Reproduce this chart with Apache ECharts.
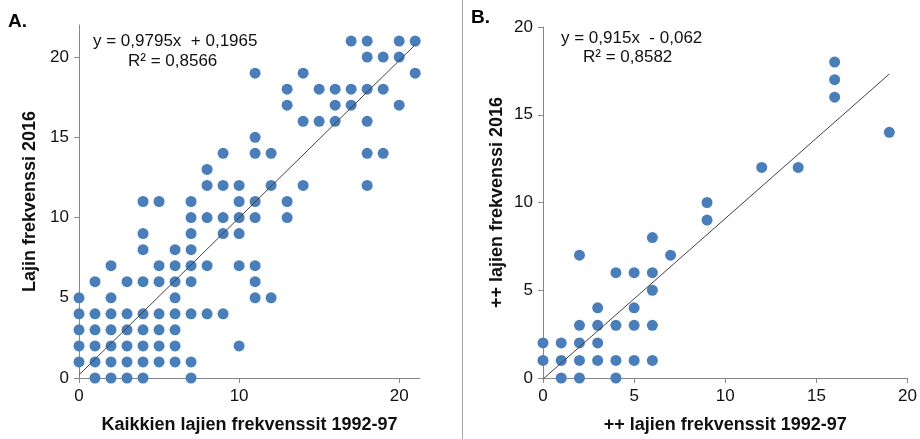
<!DOCTYPE html>
<html>
<head>
<meta charset="utf-8">
<script src="https://cdn.jsdelivr.net/npm/echarts@6/dist/echarts.min.js"></script>
<style>
  html, body { margin: 0; padding: 0; background: #fff; }
  #main { width: 920px; height: 439px; }
</style>
</head>
<body>
<div id="main"></div>
<script>
// Panel A: x values listed per y row (index = y value)
const aXByRow = [
  [1, 2, 3, 4, 7],
  [0, 1, 2, 3, 4, 5, 6, 7],
  [0, 1, 2, 3, 4, 5, 6, 10],
  [0, 1, 2, 3, 4, 5, 6],
  [0, 1, 2, 3, 4, 5, 6, 7, 8, 9],
  [0, 2, 6, 11, 12],
  [1, 3, 4, 5, 6, 7, 11],
  [2, 5, 6, 7, 8, 10, 11],
  [4, 6, 7],
  [4, 7, 9, 10],
  [7, 8, 9, 10, 11, 13],
  [4, 5, 7, 10, 11, 13],
  [8, 9, 10, 12, 14, 18],
  [8],
  [9, 11, 12, 18, 19],
  [11],
  [14, 15, 16, 18],
  [13, 16, 17, 20],
  [13, 15, 16, 17, 18, 19],
  [11, 14, 21],
  [18, 19, 20],
  [17, 18, 20, 21]
]
// Panel B: x values listed per y row (index = y value)
const bXByRow = [
  [1, 2, 4],
  [0, 1, 2, 3, 4, 5, 6],
  [0, 1, 2, 3],
  [2, 3, 4, 5, 6],
  [3, 5],
  [6],
  [4, 5, 6],
  [2, 7],
  [6],
  [9],
  [9],
  [],
  [12, 14],
  [],
  [19],
  [],
  [16],
  [16],
  [16]
]
// trendlines (from the equations printed on the chart)
const aSlope = 0.9795
const aIntercept = 0.1965
const aTrendX = [0, 21]
const bSlope = 0.915
const bIntercept = -0.062
const bTrendX = [0, 19]

const aTicksX = [0, 10, 20]
const aTicksY = [0, 5, 10, 15, 20]

function toPoints (rows) {
  const pts = []
  rows.forEach((xs, y) => xs.forEach(x => pts.push([x, y])))
  return pts
}
function trend (xs, k, b) {
  return xs.map(x => [x, k * x + b])
}

const blue = '#4a7ebb'
const axisCol = '#868686'
const txt = '#111'
const labelFont = 'Liberation Sans, Arial, sans-serif'

function valAxis (idx, opts) {
  return Object.assign({
    type: 'value',
    gridIndex: idx,
    splitLine: { show: false },
    axisLine: { show: true, onZero: false, lineStyle: { color: axisCol, width: 1 } },
    axisTick: { show: true, length: 5, lineStyle: { color: axisCol } },
    axisLabel: { color: txt, fontSize: 17, fontFamily: labelFont, margin: 10 },
    nameLocation: 'middle',
    nameTextStyle: { color: txt, fontSize: 18, fontWeight: 'bold', fontFamily: labelFont }
  }, opts)
}

const chart = echarts.init(document.getElementById('main'))
chart.setOption({
  animation: false,
  grid: [
    { left: 79, right: 500, top: 25, bottom: 60 },
    { left: 543, right: 9, top: 27, bottom: 60 }
  ],
  xAxis: [
    valAxis(0, {
      min: 0, max: 21.3,
      axisTick: { show: true, length: 5, lineStyle: { color: axisCol }, customValues: aTicksX },
      axisLabel: { color: txt, fontSize: 17, fontFamily: labelFont, margin: 10, customValues: aTicksX },
      name: 'Kaikkien lajien frekvenssit 1992-97', nameGap: 38
    }),
    valAxis(1, {
      min: 0, max: 20, interval: 5,
      name: '++ lajien frekvenssit 1992-97', nameGap: 38
    })
  ],
  yAxis: [
    valAxis(0, {
      min: 0, max: 22,
      axisTick: { show: true, length: 5, lineStyle: { color: axisCol }, customValues: aTicksY },
      axisLabel: { color: txt, fontSize: 17, fontFamily: labelFont, margin: 10, customValues: aTicksY },
      name: 'Lajin frekvenssi 2016', nameGap: 40
    }),
    valAxis(1, {
      min: 0, max: 20, interval: 5,
      name: '++ lajien frekvenssi 2016', nameGap: 37
    })
  ],
  series: [
    {
      type: 'scatter', xAxisIndex: 0, yAxisIndex: 0,
      symbolSize: 11, itemStyle: { color: blue, opacity: 1 },
      data: toPoints(aXByRow)
    },
    {
      type: 'line', xAxisIndex: 0, yAxisIndex: 0, z: 5,
      symbol: 'none', lineStyle: { color: '#404040', width: 1 },
      data: trend(aTrendX, aSlope, aIntercept)
    },
    {
      type: 'scatter', xAxisIndex: 1, yAxisIndex: 1,
      symbolSize: 11, itemStyle: { color: blue, opacity: 1 },
      data: toPoints(bXByRow)
    },
    {
      type: 'line', xAxisIndex: 1, yAxisIndex: 1, z: 5,
      symbol: 'none', lineStyle: { color: '#404040', width: 1 },
      data: trend(bTrendX, bSlope, bIntercept)
    }
  ],
  graphic: [
    { type: 'line', shape: { x1: 462.5, y1: 0, x2: 462.5, y2: 439 }, style: { stroke: '#a6a6a6', lineWidth: 1 } },
    { type: 'text', left: 8, top: 12, style: { text: 'A.', font: 'bold 19px ' + labelFont, fill: '#000' } },
    { type: 'text', left: 471, top: 8, style: { text: 'B.', font: 'bold 19px ' + labelFont, fill: '#000' } },
    { type: 'text', left: 93, top: 33, style: { text: 'y = 0,9795x  + 0,1965', font: '17px ' + labelFont, fill: '#111' } },
    { type: 'text', left: 128, top: 53, style: { text: 'R² = 0,8566', font: '17px ' + labelFont, fill: '#111' } },
    { type: 'text', left: 561, top: 30, style: { text: 'y = 0,915x  - 0,062', font: '17px ' + labelFont, fill: '#111' } },
    { type: 'text', left: 583, top: 49, style: { text: 'R² = 0,8582', font: '17px ' + labelFont, fill: '#111' } }
  ]
})
</script>
</body>
</html>
